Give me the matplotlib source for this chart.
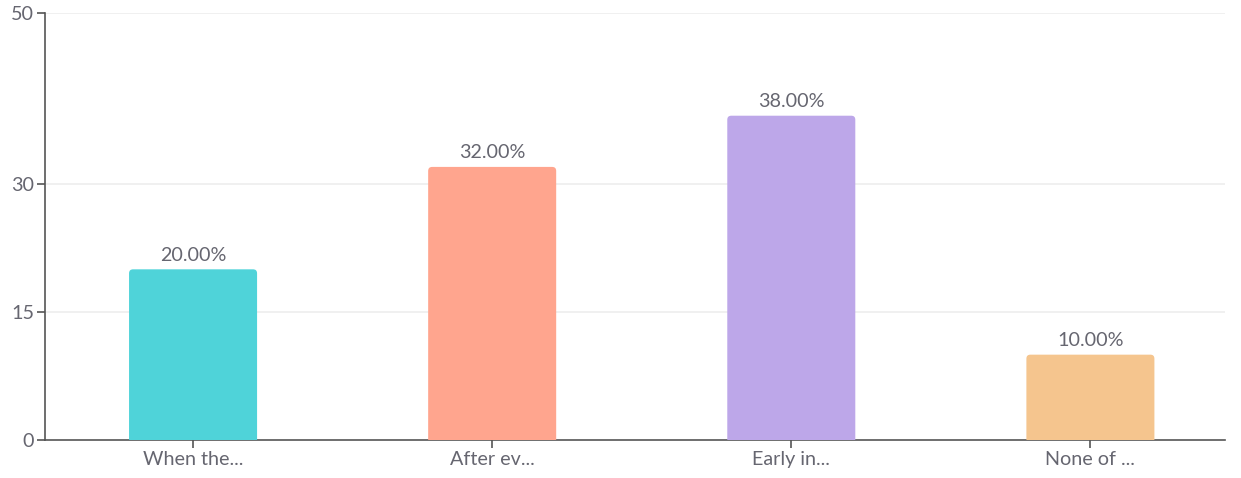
import matplotlib
matplotlib.use("Agg")
import matplotlib.pyplot as plt
from matplotlib.patches import FancyBboxPatch

categories = ["When the...", "After ev...", "Early in...", "None of ..."]
values = [20, 32, 38, 10]
labels = ["20.00%", "32.00%", "38.00%", "10.00%"]
colors = ["#4FD3D9", "#FFA58E", "#BDA7E9", "#F5C58E"]
yticks = [0, 15, 30, 50]

plt.rcParams['font.family'] = ['Lato', 'DejaVu Sans']
W, H = 1241, 478
fig = plt.figure(figsize=(W/100, H/100), dpi=100)
ax = fig.add_axes([45/W, 38/H, (1225-45)/W, (440-13.3)/H])

xs = list(range(len(categories)))
width = 0.428
ax.set_xlim(-0.495, 3.45)
ax.set_ylim(0, 50)

px_per_x = (1225-45) / (3.45+0.495)
px_per_y = (440-13.3)/50
r_px = 4
rx = r_px/px_per_x
asp = px_per_x/px_per_y
for x, v, c, lab in zip(xs, values, colors, labels):
    p = FancyBboxPatch((x - width/2 + rx, -5), width - 2*rx, v + 5 - r_px/px_per_y,
                       boxstyle=f"round,pad={rx},rounding_size={rx}",
                       mutation_aspect=asp, facecolor=c, edgecolor='none', zorder=3)
    ax.add_patch(p)
    ax.annotate(lab, (x, v), xytext=(0, 4), textcoords='offset points',
                ha='center', va='bottom', fontsize=14.2, color='#666670')

ax.set_xticks(xs)
ax.set_xticklabels(categories)
ax.set_yticks(yticks)
for y in yticks[1:]:
    ax.axhline(y, color='#EEEEEE', lw=1.2, zorder=0)

for s in ['top', 'right']:
    ax.spines[s].set_visible(False)
for s in ['left', 'bottom']:
    ax.spines[s].set_color('#555555')
    ax.spines[s].set_linewidth(1.2)
ax.tick_params(axis='both', colors='#555555', labelcolor='#666670', labelsize=14.2,
               length=6, width=1.2)
ax.tick_params(axis='x', pad=2)
ax.tick_params(axis='y', pad=2)

fig.savefig("out.png", dpi=100)
